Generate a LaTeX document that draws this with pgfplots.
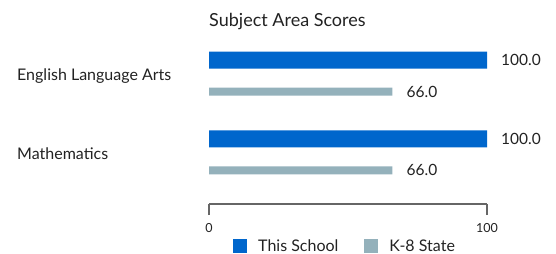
\documentclass[border=0pt]{standalone}
\usepackage{pgfplots}
\pgfplotsset{compat=1.18}
\usepackage{fontspec}
\setmainfont{Lato}
\definecolor{schoolblue}{HTML}{0066CC}
\definecolor{stategrey}{HTML}{94B1BB}
\definecolor{axisgrey}{HTML}{666666}
\definecolor{txt}{HTML}{222222}
\begin{document}
\begin{tikzpicture}
\path[use as bounding box] (0,0) rectangle (556bp,254bp);
\begin{axis}[
  at={(209bp,50bp)}, anchor=south west,
  scale only axis,
  width=278bp, height=174bp,
  xmin=0, xmax=100,
  ymin=-0.6329, ymax=1.5823,
  xbar, bar width=17bp,
  axis x line*=bottom,
  axis y line=none,
  x axis line style={axisgrey, line width=2bp, -},
  xtick={0,100},
  tick align=outside,
  major tick length=11bp,
  xtick style={axisgrey, line width=2bp},
  xticklabel style={font=\fontsize{12.5bp}{14bp}\selectfont, text=txt, inner sep=0pt, yshift=-8bp},
  /pgf/number format/assume math mode=true,
  title={Subject Area Scores},
  every axis title shift=0pt,
  title style={at={(0,1)}, anchor=base west, inner sep=0pt, yshift=3bp, font=\fontsize{18bp}{21bp}\selectfont, text=txt},
  nodes near coords={\pgfmathprintnumber[fixed,fixed zerofill,precision=1,assume math mode=true]{\pgfplotspointmeta}},
  every node near coord/.append style={font=\fontsize{15.5bp}{18bp}\selectfont, text=txt, inner sep=0pt, anchor=west, xshift=14bp},
  legend columns=2,
  legend style={draw=none, fill=none, inner sep=0pt, at={(0.0863,-0.2440)}, anchor=west,
    font=\fontsize{16bp}{19bp}\selectfont, text=txt,
    /tikz/every odd column/.append style={column sep=9bp},
    /tikz/every even column/.append style={column sep=24bp}},
  legend image code/.code={\fill[#1] (0bp,-7bp) rectangle (14bp,7bp);},
  clip=false,
]
\addplot[draw=none, fill=schoolblue, bar width=17bp, bar shift=15.5bp] coordinates {(100,1) (100,0)};
\addplot[draw=none, fill=stategrey, bar width=8bp, bar shift=-16bp] coordinates {(66,1) (66,0)};
\legend{This School, K-8 State}
\end{axis}
\node[anchor=west, inner sep=0pt, font=\fontsize{16bp}{19bp}\selectfont, text=txt] at (17bp,178bp) {English Language Arts};
\node[anchor=west, inner sep=0pt, font=\fontsize{16bp}{19bp}\selectfont, text=txt] at (17bp,100bp) {Mathematics};
\end{tikzpicture}
\end{document}
